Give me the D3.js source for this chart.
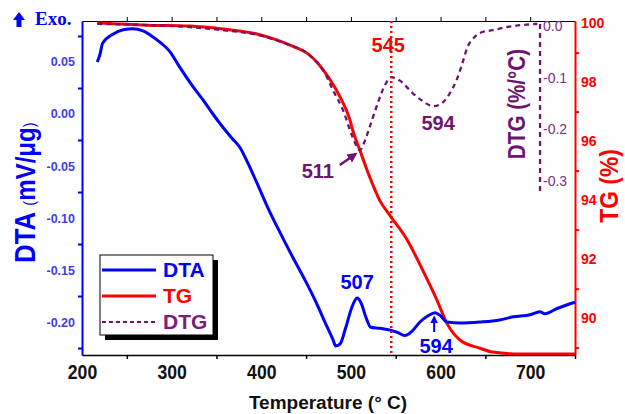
<!DOCTYPE html>
<html>
<head>
<meta charset="utf-8">
<script src="https://cdnjs.cloudflare.com/ajax/libs/d3/7.8.5/d3.min.js"></script>
<style>
  body { margin: 0; background: #fff; }
  svg { font-family: "Liberation Sans", Arial, sans-serif; }
</style>
</head>
<body>
<svg width="625" height="414"></svg>
<script>
// DTA curve (temperature, mV/ug)
const dtaT = [217, 220, 223, 235, 246, 257, 268, 284, 298, 309, 324, 335, 346, 357, 367, 376, 385, 395, 410, 421, 435, 449, 460, 471, 480, 483, 488, 494, 501, 507, 511, 517, 522, 532, 545, 552, 560, 568, 577, 586, 594, 600, 607, 622, 644, 666, 681, 700, 711, 716, 730, 750];
const dtaV = [0.050, 0.057, 0.068, 0.077, 0.081, 0.082, 0.080, 0.071, 0.060, 0.045, 0.026, 0.0135, 0.000, -0.0125, -0.023, -0.032, -0.047, -0.066, -0.095, -0.114, -0.1375, -0.160, -0.179, -0.200, -0.217, -0.223, -0.221, -0.206, -0.186, -0.177, -0.181, -0.196, -0.205, -0.206, -0.208, -0.210, -0.213, -0.209, -0.200, -0.194, -0.191, -0.194, -0.200, -0.201, -0.200, -0.198, -0.195, -0.193, -0.190, -0.192, -0.187, -0.181];

// TG curve (temperature, %)
const tgT = [217, 272, 320, 357, 395, 418, 432, 451, 462, 469, 477, 488, 499, 502, 510, 521, 532, 544, 563, 580, 596, 607, 622, 644, 658, 689, 750];
const tgV = [100.0, 99.93, 99.9, 99.8, 99.63, 99.42, 99.25, 98.98, 98.68, 98.41, 98.07, 97.49, 96.71, 96.37, 95.69, 94.78, 94.0, 93.46, 92.64, 91.63, 90.61, 89.83, 89.25, 88.98, 88.85, 88.78, 88.78];

// DTG curve (temperature, %/C)
const dtgT = [217, 272, 320, 357, 395, 432, 451, 462, 469, 480, 491, 502, 510, 516, 521, 530, 538, 545, 555, 569, 580, 592, 603, 611, 618, 624, 630, 637, 644, 658, 674, 691, 708];
const dtgV = [0.004, 0.002, -0.002, -0.008, -0.017, -0.037, -0.052, -0.070, -0.085, -0.124, -0.162, -0.215, -0.240, -0.220, -0.195, -0.149, -0.114, -0.099, -0.106, -0.130, -0.145, -0.155, -0.147, -0.128, -0.104, -0.074, -0.041, -0.023, -0.0135, -0.008, -0.002, 0.002, 0.004];

// tick labels
const xLabels = [200, 300, 400, 500, 600, 700];
const xMinor = [250, 350, 450, 550, 650, 750];
const xTop = [250, 300, 350, 400, 450, 500, 550, 600, 650, 700];
const dtaLabels = [0.05, 0.00, -0.05, -0.10, -0.15, -0.20];
const dtaMinor = [0.075, 0.025, -0.025, -0.075, -0.125, -0.175, -0.225];
const tgLabels = [100, 98, 96, 94, 92, 90];
const tgMinor = [99, 97, 95, 93, 91, 89];
const dtgLabels = [0.0, -0.1, -0.2, -0.3];

const BLUE = "#0000ff", RED = "#ff0000", PURPLE = "#6e1470";

const svg = d3.select("svg");
const x = d3.scaleLinear().domain([200, 750]).range([82, 575]);
const yDTA = d3.scaleLinear().domain([-0.2317, 0.0894]).range([355, 21]);
const yTG = d3.scaleLinear().domain([88.75, 100.07]).range([355, 21]);
const yDTG = d3.scaleLinear().domain([-0.636, 0.0097]).range([355, 21]);

// top axis
const topAxis = svg.append("g").attr("transform", "translate(0,21)")
  .call(d3.axisTop(x).tickValues(xTop).tickFormat("").tickSize(4).tickSizeOuter(0));
topAxis.selectAll("path,line").attr("stroke", "#000").attr("stroke-width", 1);

// bottom axis
const bot = svg.append("g").attr("transform", "translate(0,355)")
  .call(d3.axisBottom(x).tickValues(xMinor).tickFormat("").tickSize(4).tickSizeOuter(0));
bot.selectAll("path,line").attr("stroke", "#000").attr("stroke-width", 1.5);
const botL = svg.append("g").attr("transform", "translate(0,355)")
  .call(d3.axisBottom(x).tickValues(xLabels).tickSize(0).tickPadding(10));
botL.select(".domain").remove();
botL.selectAll("text").attr("font-size", 20).attr("font-weight", "bold").attr("fill", "#111")
  .attr("transform", "scale(0.88,1)")
  .attr("font-family", "Liberation Sans, Arial, sans-serif");

// left DTA axis
const left = svg.append("g").attr("transform", "translate(82,0)")
  .call(d3.axisLeft(yDTA).tickValues(dtaMinor).tickFormat("").tickSize(4).tickSizeOuter(0));
left.selectAll("path,line").attr("stroke", BLUE).attr("stroke-width", 2);
const leftL = svg.append("g").attr("transform", "translate(82,0)")
  .call(d3.axisLeft(yDTA).tickValues(dtaLabels).tickSize(0).tickPadding(7).tickFormat(d => d.toFixed(2)));
leftL.select(".domain").remove();
leftL.selectAll("text").attr("font-size", 12.5).attr("font-weight", "bold").attr("fill", "#3d3df2")
  .attr("font-family", "Liberation Sans, Arial, sans-serif");

// right TG axis
const right = svg.append("g").attr("transform", "translate(575,0)")
  .call(d3.axisRight(yTG).tickValues(tgMinor).tickFormat("").tickSize(4).tickSizeOuter(0));
right.selectAll("path,line").attr("stroke", RED).attr("stroke-width", 2);
const rightL = svg.append("g").attr("transform", "translate(575,0)")
  .call(d3.axisRight(yTG).tickValues(tgLabels).tickSize(0).tickPadding(6));
rightL.select(".domain").remove();
rightL.selectAll("text").attr("font-size", 14).attr("font-weight", "bold").attr("fill", RED)
  .attr("font-family", "Liberation Sans, Arial, sans-serif");

// DTG inner axis (dashed)
const dtgAxisX = x(711);
svg.append("line")
  .attr("x1", dtgAxisX).attr("x2", dtgAxisX)
  .attr("y1", yDTG(0.004)).attr("y2", yDTG(-0.322))
  .attr("stroke", PURPLE).attr("stroke-width", 2.3).attr("stroke-dasharray", "5,4");
svg.append("g").selectAll("text").data(dtgLabels).join("text")
  .attr("x", dtgAxisX + 3).attr("y", d => yDTG(d)).attr("dy", "0.35em")
  .attr("font-size", 14).attr("fill", "#7a2e8c")
  .text(d => d.toFixed(1));

// curves
const line = (ys) => d3.line().x(d => x(d[0])).y(d => ys(d[1])).curve(d3.curveMonotoneX);
svg.append("path").datum(d3.zip(tgT, tgV)).attr("d", line(yTG))
  .attr("fill", "none").attr("stroke", RED).attr("stroke-width", 3);
svg.append("path").datum(d3.zip(dtgT, dtgV)).attr("d", line(yDTG))
  .attr("fill", "none").attr("stroke", PURPLE).attr("stroke-width", 2.3).attr("stroke-dasharray", "5,4");
svg.append("path").datum(d3.zip(dtaT, dtaV)).attr("d", line(yDTA))
  .attr("fill", "none").attr("stroke", BLUE).attr("stroke-width", 3);

// 545 dotted marker
svg.append("line")
  .attr("x1", x(545)).attr("x2", x(545)).attr("y1", 21).attr("y2", 355)
  .attr("stroke", RED).attr("stroke-width", 2.5).attr("stroke-dasharray", "2,3");

// arrow marker
const defs = svg.append("defs");
[["arrP", PURPLE], ["arrB", BLUE]].forEach(([id, c]) => {
  defs.append("marker").attr("id", id).attr("viewBox", "0 0 10 10")
    .attr("refX", 8).attr("refY", 5).attr("markerWidth", 4).attr("markerHeight", 4)
    .attr("orient", "auto")
    .append("path").attr("d", "M0,0L10,5L0,10z").attr("fill", c);
});

// annotations
const ann = (t, dx, y, txt, c) => svg.append("text")
  .attr("x", x(t) + dx).attr("y", y).attr("text-anchor", "middle")
  .attr("font-size", 20).attr("font-weight", "bold").attr("fill", c).text(txt);
ann(545, -3, 52, "545", RED);
ann(511, -43, 178, "511", PURPLE);
ann(594, 3, 130, "594", PURPLE);
ann(507, 0, 289, "507", BLUE);
ann(594, 1, 353, "594", BLUE);
svg.append("line").attr("x1", x(511) - 21).attr("y1", 165).attr("x2", x(511) - 5).attr("y2", 154)
  .attr("stroke", PURPLE).attr("stroke-width", 2.5).attr("marker-end", "url(#arrP)");
svg.append("line").attr("x1", x(594) - 1).attr("y1", 332).attr("x2", x(594) - 1).attr("y2", 317)
  .attr("stroke", BLUE).attr("stroke-width", 2).attr("marker-end", "url(#arrB)");

// axis titles
const dtaTitle = svg.append("text").attr("transform", "translate(35,263) rotate(-90) scale(0.86,1)")
  .attr("fill", BLUE);
dtaTitle.append("tspan").attr("font-size", 30).attr("font-weight", "bold").text("DTA ");
dtaTitle.append("tspan").attr("font-size", 17).text("(");
dtaTitle.append("tspan").attr("font-size", 28).attr("font-weight", "bold").text("mV/\u03bcg");
dtaTitle.append("tspan").attr("font-size", 17).text(")");
svg.append("text").attr("transform", "translate(525,104) rotate(-90) scale(0.86,1)")
  .attr("text-anchor", "middle").attr("font-size", 24).attr("font-weight", "bold")
  .attr("fill", "#6e1470").text("DTG (%/\u00b0C)");
svg.append("text").attr("transform", "translate(618,186) rotate(-90) scale(0.88,1)")
  .attr("text-anchor", "middle").attr("font-size", 26).attr("font-weight", "bold")
  .attr("fill", RED).text("TG (%)");
svg.append("text").attr("x", 328).attr("y", 409)
  .attr("text-anchor", "middle").attr("font-size", 19).attr("font-weight", "bold")
  .attr("fill", "#111").text("Temperature (\u00b0 C)");

// Exo. marker
svg.append("path").attr("d", "M13,20L19,12L25,20L21.5,20L21.5,27L16.5,27L16.5,20Z").attr("fill", BLUE);
svg.append("text").attr("x", 35).attr("y", 25)
  .attr("font-family", "Liberation Serif, Times New Roman, serif")
  .attr("font-size", 19).attr("font-weight", "bold").attr("fill", BLUE).text("Exo.");

// legend
const legendItems = [
  { name: "DTA", color: BLUE, dash: null, w: 3 },
  { name: "TG", color: RED, dash: null, w: 3 },
  { name: "DTG", color: PURPLE, dash: "4,3", w: 2 }
];
const lg = svg.append("g").attr("transform", "translate(100,255)");
lg.append("rect").attr("x", 5).attr("y", 5).attr("width", 113).attr("height", 80).attr("fill", "#000");
lg.append("rect").attr("width", 113).attr("height", 80).attr("fill", "#fff").attr("stroke", "#000").attr("stroke-width", 1);
legendItems.forEach((d, i) => {
  const yy = 15 + i * 26;
  lg.append("line").attr("x1", 2).attr("x2", 56).attr("y1", yy).attr("y2", yy)
    .attr("stroke", d.color).attr("stroke-width", d.w).attr("stroke-dasharray", d.dash);
  lg.append("text").attr("x", 63).attr("y", yy).attr("dy", "0.35em")
    .attr("font-size", 21).attr("font-weight", "bold").attr("fill", d.name === "DTG" ? "#7a1e7e" : d.color)
    .text(d.name);
});
</script>
</body>
</html>
